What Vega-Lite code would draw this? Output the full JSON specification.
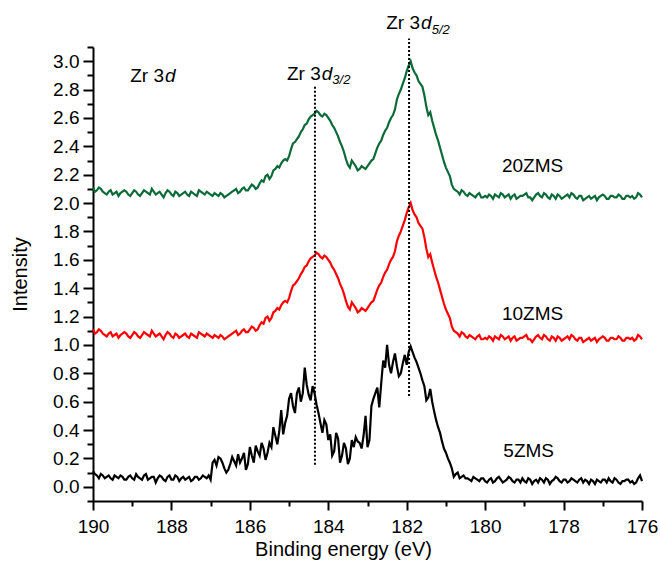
{
  "$schema": "https://vega.github.io/schema/vega-lite/v6.json",
  "autosize": {"type": "none"},
  "padding": {"left": 93, "top": 47, "right": 18, "bottom": 65},
  "width": 549,
  "height": 454,
  "background": "white",
  "config": {
    "view": {"stroke": null},
    "font": "Liberation Sans",
    "axis": {
      "grid": false,
      "domainColor": "#000000",
      "domainWidth": 2,
      "tickColor": "#000000",
      "tickWidth": 2,
      "labelColor": "#000000",
      "titleColor": "#000000",
      "labelFont": "Liberation Sans",
      "titleFont": "Liberation Sans",
      "labelFontSize": 19,
      "titleFontSize": 20,
      "titleFontWeight": "normal"
    }
  },
  "resolve": {"axis": {"x": "independent", "y": "independent"}},
  "datasets": {
    "spectra": [
      {"e":190.0,"g":2.11,"r":1.11,"b":0.11},{"e":189.9,"g":2.09,"r":1.09,"b":0.08},{"e":189.8,"g":2.10,"r":1.10,"b":0.09},{"e":189.7,"g":2.07,"r":1.07,"b":0.06},{"e":189.6,"g":2.08,"r":1.08,"b":0.08},
      {"e":189.5,"g":2.06,"r":1.06,"b":0.05},{"e":189.4,"g":2.08,"r":1.08,"b":0.07},{"e":189.3,"g":2.07,"r":1.07,"b":0.08},{"e":189.2,"g":2.09,"r":1.09,"b":0.05},{"e":189.1,"g":2.06,"r":1.06,"b":0.07},
      {"e":189.0,"g":2.07,"r":1.07,"b":0.06},{"e":188.9,"g":2.08,"r":1.08,"b":0.09},{"e":188.8,"g":2.05,"r":1.05,"b":0.06},{"e":188.7,"g":2.09,"r":1.09,"b":0.08},{"e":188.6,"g":2.07,"r":1.07,"b":0.05},
      {"e":188.5,"g":2.10,"r":1.10,"b":0.07},{"e":188.4,"g":2.06,"r":1.06,"b":0.03},{"e":188.3,"g":2.08,"r":1.08,"b":0.08},{"e":188.2,"g":2.04,"r":1.04,"b":0.05},{"e":188.1,"g":2.09,"r":1.09,"b":0.07},
      {"e":188.0,"g":2.06,"r":1.06,"b":0.05},{"e":187.9,"g":2.08,"r":1.08,"b":0.08},{"e":187.8,"g":2.05,"r":1.05,"b":0.04},{"e":187.7,"g":2.07,"r":1.07,"b":0.07},{"e":187.6,"g":2.06,"r":1.06,"b":0.06},
      {"e":187.5,"g":2.08,"r":1.08,"b":0.04},{"e":187.4,"g":2.06,"r":1.06,"b":0.07},{"e":187.3,"g":2.09,"r":1.09,"b":0.05},{"e":187.2,"g":2.07,"r":1.07,"b":0.08},{"e":187.1,"g":2.08,"r":1.08,"b":0.06},
      {"e":187.0,"g":2.06,"r":1.06,"b":0.05},{"e":186.9,"g":2.07,"r":1.07,"b":0.19},{"e":186.8,"g":2.05,"r":1.05,"b":0.21},{"e":186.7,"g":2.06,"r":1.06,"b":0.17},{"e":186.6,"g":2.05,"r":1.05,"b":0.10},
      {"e":186.5,"g":2.07,"r":1.07,"b":0.16},{"e":186.4,"g":2.09,"r":1.09,"b":0.18},{"e":186.3,"g":2.07,"r":1.07,"b":0.23},{"e":186.2,"g":2.10,"r":1.10,"b":0.20},{"e":186.1,"g":2.09,"r":1.09,"b":0.12},
      {"e":186.0,"g":2.11,"r":1.11,"b":0.28},{"e":185.9,"g":2.12,"r":1.12,"b":0.17},{"e":185.8,"g":2.11,"r":1.11,"b":0.25},{"e":185.7,"g":2.16,"r":1.16,"b":0.31},{"e":185.6,"g":2.19,"r":1.19,"b":0.19},
      {"e":185.5,"g":2.17,"r":1.17,"b":0.31},{"e":185.4,"g":2.23,"r":1.23,"b":0.42},{"e":185.3,"g":2.26,"r":1.26,"b":0.30},{"e":185.2,"g":2.28,"r":1.28,"b":0.54},{"e":185.1,"g":2.31,"r":1.31,"b":0.45},
      {"e":185.0,"g":2.33,"r":1.33,"b":0.62},{"e":184.9,"g":2.42,"r":1.42,"b":0.57},{"e":184.8,"g":2.45,"r":1.45,"b":0.66},{"e":184.7,"g":2.50,"r":1.50,"b":0.60},{"e":184.6,"g":2.55,"r":1.55,"b":0.84},
      {"e":184.5,"g":2.59,"r":1.59,"b":0.65},{"e":184.4,"g":2.62,"r":1.62,"b":0.71},{"e":184.3,"g":2.65,"r":1.65,"b":0.58},{"e":184.2,"g":2.62,"r":1.62,"b":0.45},{"e":184.1,"g":2.63,"r":1.63,"b":0.47},
      {"e":184.0,"g":2.60,"r":1.60,"b":0.33},{"e":183.9,"g":2.55,"r":1.55,"b":0.22},{"e":183.8,"g":2.50,"r":1.50,"b":0.38},{"e":183.7,"g":2.43,"r":1.43,"b":0.17},{"e":183.6,"g":2.36,"r":1.36,"b":0.31},
      {"e":183.5,"g":2.27,"r":1.27,"b":0.16},{"e":183.4,"g":2.30,"r":1.30,"b":0.33},{"e":183.3,"g":2.26,"r":1.26,"b":0.35},{"e":183.2,"g":2.24,"r":1.24,"b":0.31},{"e":183.1,"g":2.25,"r":1.25,"b":0.36},
      {"e":183.0,"g":2.26,"r":1.26,"b":0.28},{"e":182.9,"g":2.30,"r":1.30,"b":0.57},{"e":182.8,"g":2.35,"r":1.35,"b":0.66},{"e":182.7,"g":2.42,"r":1.42,"b":0.56},{"e":182.6,"g":2.48,"r":1.48,"b":0.89},
      {"e":182.5,"g":2.53,"r":1.53,"b":1.00},{"e":182.4,"g":2.60,"r":1.60,"b":0.80},{"e":182.3,"g":2.66,"r":1.66,"b":0.94},{"e":182.2,"g":2.77,"r":1.77,"b":0.78},{"e":182.1,"g":2.84,"r":1.84,"b":0.87},
      {"e":182.0,"g":2.93,"r":1.93,"b":0.86},{"e":181.9,"g":3.00,"r":2.00,"b":0.99},{"e":181.8,"g":2.92,"r":1.92,"b":0.91},{"e":181.7,"g":2.86,"r":1.86,"b":0.84},{"e":181.6,"g":2.82,"r":1.82,"b":0.75},
      {"e":181.5,"g":2.68,"r":1.68,"b":0.61},{"e":181.4,"g":2.64,"r":1.64,"b":0.69},{"e":181.3,"g":2.53,"r":1.53,"b":0.53},{"e":181.2,"g":2.44,"r":1.44,"b":0.42},{"e":181.1,"g":2.34,"r":1.34,"b":0.32},
      {"e":181.0,"g":2.25,"r":1.25,"b":0.24},{"e":180.9,"g":2.19,"r":1.19,"b":0.17},{"e":180.8,"g":2.10,"r":1.10,"b":0.07},{"e":180.7,"g":2.08,"r":1.08,"b":0.10},{"e":180.6,"g":2.09,"r":1.09,"b":0.07},
      {"e":180.5,"g":2.06,"r":1.06,"b":0.06},{"e":180.4,"g":2.07,"r":1.07,"b":0.05},{"e":180.3,"g":2.05,"r":1.05,"b":0.07},{"e":180.2,"g":2.06,"r":1.06,"b":0.05},{"e":180.1,"g":2.04,"r":1.04,"b":0.06},
      {"e":180.0,"g":2.05,"r":1.05,"b":0.04},{"e":179.9,"g":2.06,"r":1.06,"b":0.05},{"e":179.8,"g":2.03,"r":1.03,"b":0.03},{"e":179.7,"g":2.05,"r":1.05,"b":0.06},{"e":179.6,"g":2.07,"r":1.07,"b":0.05},
      {"e":179.5,"g":2.04,"r":1.04,"b":0.04},{"e":179.4,"g":2.06,"r":1.06,"b":0.07},{"e":179.3,"g":2.05,"r":1.05,"b":0.04},{"e":179.2,"g":2.03,"r":1.03,"b":0.05},{"e":179.1,"g":2.05,"r":1.05,"b":0.03},
      {"e":179.0,"g":2.06,"r":1.06,"b":0.04},{"e":178.9,"g":2.04,"r":1.04,"b":0.06},{"e":178.8,"g":2.02,"r":1.02,"b":0.02},{"e":178.7,"g":2.06,"r":1.06,"b":0.05},{"e":178.6,"g":2.05,"r":1.05,"b":0.06},
      {"e":178.5,"g":2.07,"r":1.07,"b":0.03},{"e":178.4,"g":2.04,"r":1.04,"b":0.05},{"e":178.3,"g":2.06,"r":1.06,"b":0.04},{"e":178.2,"g":2.03,"r":1.03,"b":0.07},{"e":178.1,"g":2.05,"r":1.05,"b":0.04},
      {"e":178.0,"g":2.04,"r":1.04,"b":0.05},{"e":177.9,"g":2.06,"r":1.06,"b":0.03},{"e":177.8,"g":2.07,"r":1.07,"b":0.06},{"e":177.7,"g":2.04,"r":1.04,"b":0.04},{"e":177.6,"g":2.05,"r":1.05,"b":0.05},
      {"e":177.5,"g":2.02,"r":1.02,"b":0.03},{"e":177.4,"g":2.04,"r":1.04,"b":0.04},{"e":177.3,"g":2.03,"r":1.03,"b":0.05},{"e":177.2,"g":2.05,"r":1.05,"b":0.02},{"e":177.1,"g":2.04,"r":1.04,"b":0.04},
      {"e":177.0,"g":2.06,"r":1.06,"b":0.05},{"e":176.9,"g":2.03,"r":1.03,"b":0.03},{"e":176.8,"g":2.05,"r":1.05,"b":0.04},{"e":176.7,"g":2.04,"r":1.04,"b":0.06},{"e":176.6,"g":2.06,"r":1.06,"b":0.03},
      {"e":176.5,"g":2.03,"r":1.03,"b":0.04},{"e":176.4,"g":2.05,"r":1.05,"b":0.05},{"e":176.3,"g":2.04,"r":1.04,"b":0.03},{"e":176.2,"g":2.03,"r":1.03,"b":0.02},{"e":176.1,"g":2.07,"r":1.07,"b":0.06},
      {"e":176.0,"g":2.04,"r":1.04,"b":0.04},
      {"e":189.95,"g":2.08,"r":1.08,"b":0.09},{"e":189.85,"g":2.11,"r":1.11,"b":0.06},{"e":189.75,"g":2.08,"r":1.08,"b":0.08},{"e":189.65,"g":2.06,"r":1.06,"b":0.07},{"e":189.55,"g":2.09,"r":1.09,"b":0.06},
      {"e":189.45,"g":2.07,"r":1.07,"b":0.08},{"e":189.35,"g":2.05,"r":1.05,"b":0.06},{"e":189.25,"g":2.08,"r":1.08,"b":0.07},{"e":189.15,"g":2.08,"r":1.08,"b":0.05},{"e":189.05,"g":2.05,"r":1.05,"b":0.08},
      {"e":188.95,"g":2.09,"r":1.09,"b":0.05},{"e":188.85,"g":2.06,"r":1.06,"b":0.07},{"e":188.75,"g":2.07,"r":1.07,"b":0.05},{"e":188.65,"g":2.08,"r":1.08,"b":0.09},{"e":188.55,"g":2.06,"r":1.06,"b":0.06},
      {"e":188.45,"g":2.08,"r":1.08,"b":0.07},{"e":188.35,"g":2.07,"r":1.07,"b":0.06},{"e":188.25,"g":2.06,"r":1.06,"b":0.07},{"e":188.15,"g":2.07,"r":1.07,"b":0.04},{"e":188.05,"g":2.08,"r":1.08,"b":0.08},
      {"e":187.95,"g":2.05,"r":1.05,"b":0.05},{"e":187.85,"g":2.07,"r":1.07,"b":0.07},{"e":187.75,"g":2.06,"r":1.06,"b":0.06},{"e":187.65,"g":2.08,"r":1.08,"b":0.05},{"e":187.55,"g":2.05,"r":1.05,"b":0.07},
      {"e":187.45,"g":2.07,"r":1.07,"b":0.05},{"e":187.35,"g":2.05,"r":1.05,"b":0.07},{"e":187.25,"g":2.08,"r":1.08,"b":0.06},{"e":187.15,"g":2.06,"r":1.06,"b":0.07},{"e":187.05,"g":2.07,"r":1.07,"b":0.08},
      {"e":186.95,"g":2.05,"r":1.05,"b":0.17},{"e":186.85,"g":2.06,"r":1.06,"b":0.15},{"e":186.75,"g":2.07,"r":1.07,"b":0.20},{"e":186.65,"g":2.04,"r":1.04,"b":0.13},{"e":186.55,"g":2.06,"r":1.06,"b":0.12},
      {"e":186.45,"g":2.08,"r":1.08,"b":0.21},{"e":186.35,"g":2.10,"r":1.10,"b":0.15},{"e":186.25,"g":2.08,"r":1.08,"b":0.17},{"e":186.15,"g":2.11,"r":1.11,"b":0.24},{"e":186.05,"g":2.09,"r":1.09,"b":0.16},
      {"e":185.95,"g":2.13,"r":1.13,"b":0.22},{"e":185.85,"g":2.10,"r":1.10,"b":0.29},{"e":185.75,"g":2.14,"r":1.14,"b":0.22},{"e":185.65,"g":2.15,"r":1.15,"b":0.27},{"e":185.55,"g":2.20,"r":1.20,"b":0.24},
      {"e":185.45,"g":2.19,"r":1.19,"b":0.28},{"e":185.35,"g":2.24,"r":1.24,"b":0.36},{"e":185.25,"g":2.25,"r":1.25,"b":0.39},{"e":185.15,"g":2.30,"r":1.30,"b":0.37},{"e":185.05,"g":2.30,"r":1.30,"b":0.50},
      {"e":184.95,"g":2.38,"r":1.38,"b":0.66},{"e":184.85,"g":2.43,"r":1.43,"b":0.52},{"e":184.75,"g":2.47,"r":1.47,"b":0.70},{"e":184.65,"g":2.52,"r":1.52,"b":0.66},{"e":184.55,"g":2.56,"r":1.56,"b":0.72},
      {"e":184.45,"g":2.61,"r":1.61,"b":0.61},{"e":184.35,"g":2.63,"r":1.63,"b":0.66},{"e":184.25,"g":2.64,"r":1.64,"b":0.52},{"e":184.15,"g":2.61,"r":1.61,"b":0.38},{"e":184.05,"g":2.62,"r":1.62,"b":0.44},
      {"e":183.95,"g":2.58,"r":1.58,"b":0.37},{"e":183.85,"g":2.53,"r":1.53,"b":0.25},{"e":183.75,"g":2.47,"r":1.47,"b":0.34},{"e":183.65,"g":2.40,"r":1.40,"b":0.22},{"e":183.55,"g":2.31,"r":1.31,"b":0.27},
      {"e":183.45,"g":2.25,"r":1.25,"b":0.20},{"e":183.35,"g":2.28,"r":1.28,"b":0.28},{"e":183.25,"g":2.23,"r":1.23,"b":0.32},{"e":183.15,"g":2.26,"r":1.26,"b":0.27},{"e":183.05,"g":2.24,"r":1.24,"b":0.50},
      {"e":182.95,"g":2.28,"r":1.28,"b":0.33},{"e":182.85,"g":2.31,"r":1.31,"b":0.62},{"e":182.75,"g":2.39,"r":1.39,"b":0.70},{"e":182.65,"g":2.44,"r":1.44,"b":0.73},{"e":182.55,"g":2.51,"r":1.51,"b":0.84},
      {"e":182.45,"g":2.57,"r":1.57,"b":0.86},{"e":182.35,"g":2.62,"r":1.62,"b":0.88},{"e":182.25,"g":2.73,"r":1.73,"b":0.85},{"e":182.15,"g":2.80,"r":1.80,"b":0.80},{"e":182.05,"g":2.88,"r":1.88,"b":0.93},
      {"e":181.95,"g":2.97,"r":1.97,"b":0.95},{"e":181.85,"g":2.95,"r":1.95,"b":0.95},{"e":181.75,"g":2.90,"r":1.90,"b":0.88},{"e":181.65,"g":2.84,"r":1.84,"b":0.80},{"e":181.55,"g":2.76,"r":1.76,"b":0.71},
      {"e":181.45,"g":2.62,"r":1.62,"b":0.63},{"e":181.35,"g":2.58,"r":1.58,"b":0.60},{"e":181.25,"g":2.48,"r":1.48,"b":0.47},{"e":181.15,"g":2.39,"r":1.39,"b":0.38},{"e":181.05,"g":2.29,"r":1.29,"b":0.27},
      {"e":180.95,"g":2.22,"r":1.22,"b":0.20},{"e":180.85,"g":2.13,"r":1.13,"b":0.13},{"e":180.75,"g":2.09,"r":1.09,"b":0.09},{"e":180.65,"g":2.06,"r":1.06,"b":0.06},{"e":180.55,"g":2.08,"r":1.08,"b":0.08},
      {"e":180.45,"g":2.05,"r":1.05,"b":0.06},{"e":180.35,"g":2.06,"r":1.06,"b":0.04},{"e":180.25,"g":2.04,"r":1.04,"b":0.06},{"e":180.15,"g":2.07,"r":1.07,"b":0.04},{"e":180.05,"g":2.04,"r":1.04,"b":0.06},
      {"e":179.95,"g":2.04,"r":1.04,"b":0.03},{"e":179.85,"g":2.05,"r":1.05,"b":0.06},{"e":179.75,"g":2.06,"r":1.06,"b":0.04},{"e":179.65,"g":2.04,"r":1.04,"b":0.07},{"e":179.55,"g":2.06,"r":1.06,"b":0.03},
      {"e":179.45,"g":2.05,"r":1.05,"b":0.05},{"e":179.35,"g":2.03,"r":1.03,"b":0.06},{"e":179.25,"g":2.06,"r":1.06,"b":0.03},{"e":179.15,"g":2.04,"r":1.04,"b":0.05},{"e":179.05,"g":2.05,"r":1.05,"b":0.06},
      {"e":178.95,"g":2.07,"r":1.07,"b":0.03},{"e":178.85,"g":2.04,"r":1.04,"b":0.05},{"e":178.75,"g":2.04,"r":1.04,"b":0.04},{"e":178.65,"g":2.07,"r":1.07,"b":0.03},{"e":178.55,"g":2.04,"r":1.04,"b":0.05},
      {"e":178.45,"g":2.06,"r":1.06,"b":0.06},{"e":178.35,"g":2.03,"r":1.03,"b":0.02},{"e":178.25,"g":2.05,"r":1.05,"b":0.05},{"e":178.15,"g":2.06,"r":1.06,"b":0.06},{"e":178.05,"g":2.03,"r":1.03,"b":0.03},
      {"e":177.95,"g":2.05,"r":1.05,"b":0.05},{"e":177.85,"g":2.04,"r":1.04,"b":0.04},{"e":177.75,"g":2.06,"r":1.06,"b":0.05},{"e":177.65,"g":2.03,"r":1.03,"b":0.03},{"e":177.55,"g":2.05,"r":1.05,"b":0.06},
      {"e":177.45,"g":2.03,"r":1.03,"b":0.05},{"e":177.35,"g":2.05,"r":1.05,"b":0.02},{"e":177.25,"g":2.04,"r":1.04,"b":0.04},{"e":177.15,"g":2.02,"r":1.02,"b":0.05},{"e":177.05,"g":2.05,"r":1.05,"b":0.03},
      {"e":176.95,"g":2.05,"r":1.05,"b":0.05},{"e":176.85,"g":2.03,"r":1.03,"b":0.06},{"e":176.75,"g":2.05,"r":1.05,"b":0.03},{"e":176.65,"g":2.04,"r":1.04,"b":0.05},{"e":176.55,"g":2.05,"r":1.05,"b":0.02},
      {"e":176.45,"g":2.03,"r":1.03,"b":0.04},{"e":176.35,"g":2.05,"r":1.05,"b":0.05},{"e":176.25,"g":2.05,"r":1.05,"b":0.04},{"e":176.15,"g":2.04,"r":1.04,"b":0.03},{"e":176.05,"g":2.06,"r":1.06,"b":0.08}
    ],
    "rules": [
      {"e": 184.34, "y1": 0.155, "y2": 2.82},
      {"e": 181.94, "y1": 0.64, "y2": 3.16}
    ],
    "series": [
      {"e": 178.79, "i": 2.258, "t": "20ZMS"},
      {"e": 178.79, "i": 1.218, "t": "10ZMS"},
      {"e": 178.89, "i": 0.249, "t": "5ZMS"}
    ],
    "ann": [
      {"e": 188.164, "i": 2.85, "t": "Zr 3"},
      {"e": 184.167, "i": 2.866, "t": "Zr 3"},
      {"e": 181.635, "i": 3.225, "t": "Zr 3"}
    ],
    "annd": [
      {"e": 188.164, "i": 2.85, "t": "d"},
      {"e": 184.167, "i": 2.866, "t": "d"},
      {"e": 181.635, "i": 3.225, "t": "d"}
    ],
    "anns": [
      {"e": 183.897, "i": 2.838, "t": "3/2"},
      {"e": 181.362, "i": 3.195, "t": "5/2"}
    ]
  },
  "layer": [
    {
      "data": {"name": "spectra"},
      "transform": [{"fold": ["b", "r", "g"], "as": ["s", "v"]}],
      "mark": {"type": "line", "strokeWidth": 2.2, "interpolate": "linear"},
      "encoding": {
        "x": {
          "field": "e", "type": "quantitative",
          "scale": {"domain": [176, 190], "reverse": true, "nice": false, "zero": false},
          "axis": {
            "orient": "bottom",
            "title": "Binding energy (eV)",
            "titleX": 250,
            "titleAlign": "center",
            "values": [190,188,186,184,182,180,178,176],
            "format": "d",
            "tickSize": 9,
            "labelPadding": 7,
            "titlePadding": 3,
            "labelFlush": false,
            "labelOverlap": false
          }
        },
        "y": {
          "field": "v", "type": "quantitative",
          "scale": {"domain": [-0.1, 3.1], "nice": false, "zero": false},
          "axis": {
            "orient": "left",
            "title": "Intensity",
            "values": [0,0.2,0.4,0.6,0.8,1.0,1.2,1.4,1.6,1.8,2.0,2.2,2.4,2.6,2.8,3.0],
            "format": ".1f",
            "tickSize": 10,
            "labelPadding": 4,
            "titlePadding": 22,
            "labelFlush": false,
            "labelOverlap": false
          }
        },
        "color": {
          "field": "s", "type": "nominal",
          "scale": {"domain": ["b", "r", "g"], "range": ["#000000", "#ff0000", "#0a6b38"]},
          "legend": null
        }
      }
    },
    {
      "data": {"name": "rules"},
      "mark": {"type": "rule", "strokeDash": [2, 2], "strokeWidth": 2, "color": "#000000"},
      "encoding": {
        "x": {
          "field": "e", "type": "quantitative",
          "axis": {
            "orient": "bottom",
            "title": null,
            "values": [189,187,185,183,181,179,177],
            "labels": false,
            "domain": false,
            "tickSize": 5
          }
        },
        "y": {
          "field": "y1", "type": "quantitative",
          "axis": {
            "orient": "left",
            "title": null,
            "values": [-0.1,0.1,0.3,0.5,0.7,0.9,1.1,1.3,1.5,1.7,1.9,2.1,2.3,2.5,2.7,2.9,3.1],
            "labels": false,
            "domain": false,
            "tickSize": 6
          }
        },
        "y2": {"field": "y2"}
      }
    },
    {
      "data": {"name": "series"},
      "mark": {"type": "text", "fontSize": 19, "align": "center", "baseline": "middle", "color": "#000000", "font": "Liberation Sans"},
      "encoding": {
        "x": {"field": "e", "type": "quantitative", "axis": null},
        "y": {"field": "i", "type": "quantitative", "axis": null},
        "text": {"field": "t"}
      }
    },
    {
      "data": {"name": "ann"},
      "mark": {"type": "text", "fontSize": 19, "align": "right", "baseline": "alphabetic", "dx": -1, "color": "#000000", "font": "Liberation Sans"},
      "encoding": {
        "x": {"field": "e", "type": "quantitative", "axis": null},
        "y": {"field": "i", "type": "quantitative", "axis": null},
        "text": {"field": "t"}
      }
    },
    {
      "data": {"name": "annd"},
      "mark": {"type": "text", "fontSize": 19, "fontStyle": "italic", "align": "left", "baseline": "alphabetic", "color": "#000000", "font": "Liberation Sans"},
      "encoding": {
        "x": {"field": "e", "type": "quantitative", "axis": null},
        "y": {"field": "i", "type": "quantitative", "axis": null},
        "text": {"field": "t"}
      }
    },
    {
      "data": {"name": "anns"},
      "mark": {"type": "text", "fontSize": 13, "fontStyle": "italic", "align": "left", "baseline": "alphabetic", "color": "#000000", "font": "Liberation Sans"},
      "encoding": {
        "x": {"field": "e", "type": "quantitative", "axis": null},
        "y": {"field": "i", "type": "quantitative", "axis": null},
        "text": {"field": "t"}
      }
    }
  ]
}
